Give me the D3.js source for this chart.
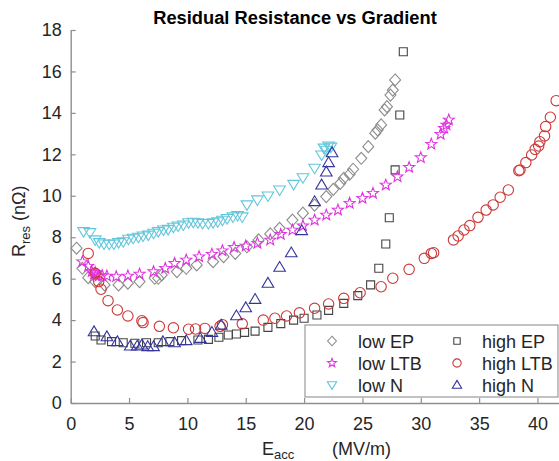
<!DOCTYPE html>
<html><head><meta charset="utf-8">
<script src="https://cdn.jsdelivr.net/npm/d3@7"></script>
<style>body{margin:0;background:#fff}svg{display:block;font-family:"Liberation Sans",Arial,sans-serif}</style>
</head><body><svg id="c" width="559" height="461"></svg>
<script>
const xTicks = [0,5,10,15,20,25,30,35,40];
const yTicks = [0,2,4,6,8,10,12,14,16,18];

const lowEP_x = [0.5,1.0,1.5,2.1,2.9,4.1,4.9,5.9,7.2,7.5,7.8,9.1,9.9,10.8,12.2,13.1,14.1,15.1,16.1,17.1,17.9,19.0,19.9,20.9,21.9,22.5,23.1,23.4,23.9,24.2,24.9,25.5,26.1,26.3,26.6,26.9,27.1,27.4,27.6,27.8];
const lowEP_y = [7.47,6.5,6.05,5.86,5.7,5.7,5.78,5.86,6.02,6.02,6.18,6.34,6.5,6.66,6.82,7.06,7.22,7.54,7.87,8.16,8.43,8.83,9.16,9.55,9.96,10.31,10.6,10.84,11.04,11.28,11.81,12.37,13.02,13.18,13.42,14.14,14.3,14.86,15.1,15.59];

const highEP_x = [2.1,2.6,3.5,4.5,5.5,6.5,7.5,8.5,9.5,10.9,11.8,12.7,13.5,14.2,14.9,15.8,16.9,18.0,19.1,20.0,21.1,22.1,23.4,24.6,25.7,26.4,27.0,27.3,27.8,28.2,28.5];
const highEP_y = [3.23,3.04,2.96,2.91,2.88,2.91,2.91,2.96,3.01,3.04,3.07,3.17,3.28,3.33,3.41,3.47,3.65,3.83,4.0,4.09,4.25,4.47,4.81,5.18,5.7,6.5,7.67,8.94,11.25,13.9,16.95];

const lowLTB_x = [1.0,1.5,1.8,2.0,2.1,2.2,2.4,2.7,3.1,3.9,4.9,5.9,7.1,8.1,8.9,9.9,11.0,12.1,13.0,14.0,15.0,16.0,17.1,18.0,19.0,19.9,20.9,21.9,22.9,23.9,25.0,25.9,27.0,28.0,29.0,30.0,30.9,31.7,32.0,32.2,32.4];
const lowLTB_y = [6.82,6.6,6.34,6.22,6.3,6.18,6.13,6.15,6.13,6.1,6.13,6.22,6.34,6.5,6.74,6.9,7.06,7.18,7.35,7.51,7.58,7.71,7.87,8.14,8.35,8.55,8.83,9.07,9.31,9.64,9.88,10.12,10.52,10.92,11.37,11.84,12.49,12.97,13.26,13.42,13.66];

const highLTB_x = [1.5,2.1,2.4,2.6,3.2,4.0,4.9,6.1,6.2,7.6,8.8,10.1,10.7,11.5,12.8,13.0,14.7,16.5,17.5,18.5,19.6,20.9,22.1,23.4,24.8,26.6,27.6,29.0,30.3,30.9,31.1,32.8,33.2,33.7,34.2,34.9,35.6,36.2,36.8,37.5,38.4,38.5,39.0,39.5,39.8,40.1,40.2,40.6,40.7,41.1,41.6];
const highLTB_y = [7.22,6.26,5.86,5.49,4.94,4.49,4.2,3.97,3.88,3.7,3.63,3.56,3.57,3.6,3.7,3.78,3.82,4.0,4.09,4.2,4.35,4.57,4.78,5.05,5.32,5.61,6.02,6.45,6.98,7.22,7.25,7.87,8.06,8.35,8.56,8.96,9.31,9.56,9.93,10.28,11.21,11.25,11.6,11.97,12.24,12.4,12.61,12.89,13.34,13.79,14.59];

const lowN_x = [1.1,1.65,2.1,2.45,2.85,3.3,3.7,4.1,4.5,4.95,5.35,5.8,6.2,6.65,7.1,7.5,7.95,8.35,8.8,9.2,9.65,10.1,10.5,10.9,11.3,11.8,12.2,12.6,13.0,13.4,13.9,14.3,14.7,15.1,16.0,16.9,17.9,19.1,19.9,20.9,21.5,21.7,21.9,22.1,22.3];
const lowN_y = [8.27,8.22,7.87,7.74,7.67,7.66,7.67,7.74,7.78,7.9,7.95,8.0,8.06,8.1,8.19,8.27,8.35,8.38,8.48,8.54,8.59,8.7,8.72,8.7,8.66,8.66,8.7,8.75,8.82,8.9,8.98,9.05,8.98,9.56,9.8,9.99,10.28,10.55,10.87,11.33,11.97,12.3,12.2,12.4,12.35];

const highN_x = [2.0,3.1,4.0,5.1,5.7,6.1,6.6,7.1,7.9,8.9,9.9,11.1,12.1,12.9,14.2,15.0,15.8,16.9,17.9,18.9,19.8,20.9,21.5,21.9,22.1,22.4];
const highN_y = [3.44,3.2,2.96,2.75,2.75,2.8,2.72,2.72,2.96,2.91,3.01,3.12,3.41,3.76,4.21,4.6,5.0,5.78,6.55,7.25,8.32,9.72,10.52,11.15,11.6,12.08];

const seriesNames = ["low EP","high EP","low LTB","high LTB","low N","high N"];

// marker shape paths (scaled by s)
function shapePath(kind, s){
  s = s || 1;
  const p = d3.path();
  if(kind==="diamond"){ p.moveTo(0,-6*s); p.lineTo(5.5*s,0); p.lineTo(0,6*s); p.lineTo(-5.5*s,0); p.closePath(); }
  else if(kind==="square"){ p.rect(-4*s,-4*s,8*s,8*s); }
  else if(kind==="circle"){ p.moveTo(5.2*s,0); p.arc(0,0,5.2*s,0,2*Math.PI); p.closePath(); }
  else if(kind==="tdown"){ p.moveTo(-5.8*s,-4*s); p.lineTo(5.8*s,-4*s); p.lineTo(0,5.5*s); p.closePath(); }
  else if(kind==="tup"){ p.moveTo(-5.8*s,4*s); p.lineTo(5.8*s,4*s); p.lineTo(0,-5.8*s); p.closePath(); }
  else if(kind==="star"){
    const R=5.8*s, r=R*0.42;
    for(let i=0;i<10;i++){
      const a = -Math.PI/2 + i*Math.PI/5, rr = i%2? r : R;
      const x = rr*Math.cos(a), y = rr*Math.sin(a);
      if(i===0) p.moveTo(x,y); else p.lineTo(x,y);
    }
    p.closePath();
  }
  return p.toString();
}

const series = [
  {name:seriesNames[0], xs:lowEP_x,  ys:lowEP_y,  kind:"diamond", color:"#8c8c8c"},
  {name:seriesNames[1], xs:highEP_x, ys:highEP_y, kind:"square",  color:"#444444"},
  {name:seriesNames[2], xs:lowLTB_x, ys:lowLTB_y, kind:"star",    color:"#e033e0"},
  {name:seriesNames[3], xs:highLTB_x,ys:highLTB_y,kind:"circle",  color:"#cc3838"},
  {name:seriesNames[4], xs:lowN_x,   ys:lowN_y,   kind:"tdown",   color:"#62c6db"},
  {name:seriesNames[5], xs:highN_x,  ys:highN_y,  kind:"tup",     color:"#34349c"}
];

const svg = d3.select("#c");
const x = d3.scaleLinear().domain([0,42]).range([70.7, 70.7+42*11.67]);
const y = d3.scaleLinear().domain([0,18]).range([403, 30]);

const axisCol = "#8f8f8f", textCol = "#262626";

// title
svg.append("text").attr("x",295).attr("y",24).attr("text-anchor","middle")
  .attr("font-size",18.3).attr("font-weight","bold").attr("fill","#000")
  .text("Residual Resistance vs Gradient");

// x axis
const gx = svg.append("g").attr("transform",`translate(0,${y(0)})`)
  .call(d3.axisBottom(x).tickValues(xTicks).tickSizeInner(-5).tickSizeOuter(0).tickPadding(11));
gx.select(".domain").attr("stroke",axisCol).attr("stroke-width",1.4);
gx.selectAll(".tick line").attr("stroke",axisCol).attr("stroke-width",1.2);
gx.selectAll(".tick text").attr("fill",textCol).attr("font-size",18).attr("font-family","Liberation Sans, Arial, sans-serif").attr("y",14).attr("dy","0.71em");

// y axis
const gy = svg.append("g").attr("transform",`translate(${x(0)},0)`)
  .call(d3.axisLeft(y).tickValues(yTicks).tickSizeInner(-5).tickSizeOuter(0).tickPadding(9));
gy.select(".domain").attr("stroke",axisCol).attr("stroke-width",1.4);
gy.selectAll(".tick line").attr("stroke",axisCol).attr("stroke-width",1.2);
gy.selectAll(".tick text").attr("fill",textCol).attr("font-size",18).attr("font-family","Liberation Sans, Arial, sans-serif").attr("x",-9);

// data
const plot = svg.append("g");
series.forEach(s=>{
  const pts = s.xs.map((v,i)=>[v,s.ys[i]]);
  plot.append("g").selectAll("path").data(pts).join("path")
    .attr("transform",d=>`translate(${x(d[0])},${y(d[1])})`)
    .attr("d",shapePath(s.kind,1))
    .attr("fill","none").attr("stroke",s.color).attr("stroke-width",1.1);
});

// axis labels
const yl = svg.append("text").attr("transform","translate(25,257) rotate(-90)")
  .attr("fill",textCol).attr("font-size",18);
yl.append("tspan").text("R");
yl.append("tspan").attr("font-size",13).attr("dy",5).text("res");
yl.append("tspan").attr("dy",-5).text(" (nΩ)");

const xl = svg.append("text").attr("x",262).attr("y",455)
  .attr("fill",textCol).attr("font-size",18);
xl.append("tspan").text("E");
xl.append("tspan").attr("font-size",13).attr("dy",4).text("acc");
xl.append("tspan").attr("dy",-4).attr("x",332).text("(MV/m)");

// legend
const lg = svg.append("g");
lg.append("rect").attr("x",305).attr("y",325).attr("width",253).attr("height",72)
  .attr("fill","#fff").attr("stroke","#9a9a9a").attr("stroke-width",1.2);
const colX = [332, 457], textX = [358, 482], rowY = [341, 363, 385];
const order = [0,2,4,1,3,5];
order.forEach((si,k)=>{
  const c = Math.floor(k/3), r = k%3, s = series[si];
  lg.append("path").attr("transform",`translate(${colX[c]},${rowY[r]})`)
    .attr("d",shapePath(s.kind,0.8)).attr("fill","none").attr("stroke",s.color).attr("stroke-width",1.1);
  lg.append("text").attr("x",textX[c]).attr("y",rowY[r]+6.5).attr("font-size",18)
    .attr("fill",textCol).text(s.name);
});
</script></body></html>
